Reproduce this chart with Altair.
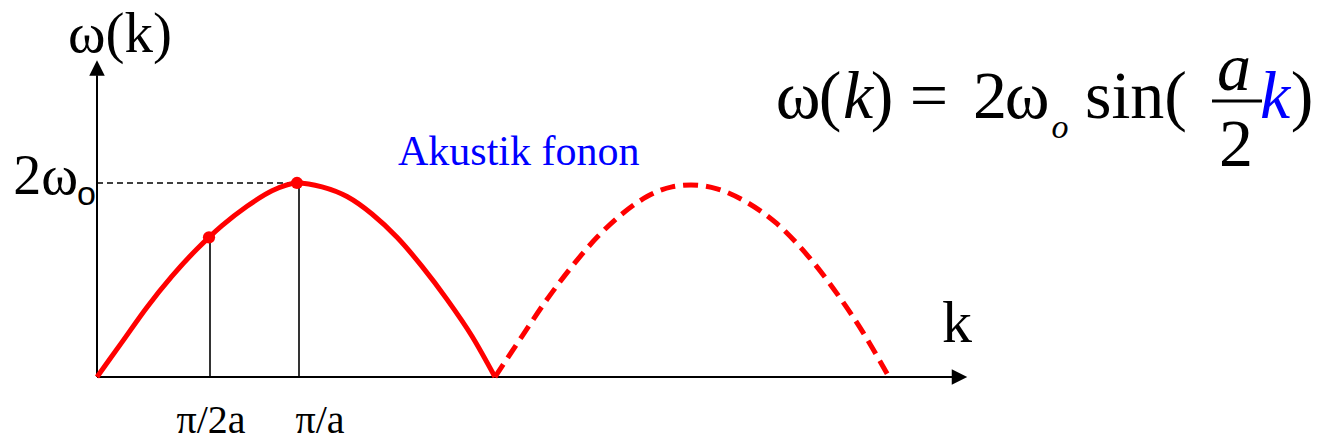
import altair as alt
import pandas as pd

# Dispersion of the acoustic phonon branch.
# k in units of pi/a, omega in units of 2*omega_o
k_solid = [0, 0.125, 0.25, 0.375, 0.5, 0.56, 0.625, 0.75, 0.875, 1.0,
           1.125, 1.25, 1.375, 1.5, 1.625, 1.75, 1.875, 1.99]
w_solid = [0, 0.18, 0.36, 0.52, 0.66, 0.72, 0.78, 0.88, 0.96, 1.0,
           0.98, 0.93, 0.84, 0.72, 0.57, 0.40, 0.21, 0]
k_dashed = [1.99, 2.125, 2.25, 2.375, 2.5, 2.625, 2.75, 2.875, 2.97,
            3.1, 3.25, 3.4, 3.55, 3.7, 3.83, 3.96]
w_dashed = [0, 0.21, 0.40, 0.57, 0.72, 0.84, 0.93, 0.98, 0.99,
            0.97, 0.90, 0.79, 0.63, 0.43, 0.23, 0]

# marked points on the branch
k_marks = [0.56, 1.0]
w_marks = [0.72, 1.0]
tick_labels = ["π/2a", "π/a"]
tick_label_k = [0.57, 1.115]

W, H = 1325, 443
X_DOMAIN = [-0.485, 6.14]
Y_DOMAIN = [-0.340, 1.943]
RED = "#ff0000"
BLUE = "#0000ff"
SERIF = "Liberation Serif"

xs = alt.Scale(domain=X_DOMAIN, range=[0, W], nice=False, zero=False)
ys = alt.Scale(domain=Y_DOMAIN, range=[H, 0], nice=False, zero=False)

def X(field="k"):
    return alt.X(f"{field}:Q", scale=xs, axis=None)

def Y(field="w"):
    return alt.Y(f"{field}:Q", scale=ys, axis=None)

solid = pd.DataFrame({"k": k_solid, "w": w_solid})
dashed = pd.DataFrame({"k": k_dashed, "w": w_dashed})
marks = pd.DataFrame({"k": k_marks, "w": w_marks})

# axes drawn as arrows
axes_df = pd.DataFrame({"k": [0, 0], "w": [0, 0], "k2": [0, 4.28], "w2": [1.555, 0]})
axes = alt.Chart(axes_df).mark_rule(color="black", strokeWidth=2).encode(
    x=X(), y=Y(), x2="k2:Q", y2="w2:Q")

arrow_up = alt.Chart(pd.DataFrame({"k": [0], "w": [1.593]})).mark_point(
    shape="M0,-1L1,1L-1,1Z", filled=True, color="black", opacity=1, size=240, strokeWidth=0
).encode(x=X(), y=Y())
arrow_right = alt.Chart(pd.DataFrame({"k": [4.3125], "w": [0]})).mark_point(
    shape="M1,0L-1,-1L-1,1Z", filled=True, color="black", opacity=1, size=240, strokeWidth=0
).encode(x=X(), y=Y())

# guide lines down to the k axis and across to the omega axis
drops = alt.Chart(pd.DataFrame({"k": [0.565, 1.01], "w": [0, 0], "w2": w_marks})).mark_rule(
    color="black", strokeWidth=1.6).encode(x=X(), y=Y(), y2="w2:Q")
level = alt.Chart(pd.DataFrame({"k": [0], "k2": [1.0], "w": [1.0]})).mark_rule(
    color="black", strokeWidth=1.5, strokeDash=[6, 4]).encode(x=X(), x2="k2:Q", y=Y())

curve_solid = alt.Chart(solid).mark_line(
    color=RED, strokeWidth=5, interpolate="monotone").encode(x=X(), y=Y())
curve_dashed = alt.Chart(dashed).mark_line(
    color=RED, strokeWidth=5, strokeDash=[15, 8], interpolate="monotone").encode(x=X(), y=Y())
dots = alt.Chart(marks).mark_circle(color=RED, size=150, opacity=1).encode(x=X(), y=Y())

ticks = alt.Chart(pd.DataFrame({"k": tick_label_k, "w": [-0.29, -0.29], "t": tick_labels})).mark_text(
    font=SERIF, fontSize=40, align="center", baseline="alphabetic", color="black"
).encode(x=X(), y=Y(), text="t:N")


def label(text, x, y, size, color="black", style="normal", align="center", font=SERIF):
    return alt.Chart(pd.DataFrame({"t": [text]})).mark_text(
        font=font, fontSize=size, fontStyle=style, align=align, baseline="alphabetic", color=color
    ).encode(x=alt.value(x), y=alt.value(y), text="t:N")


F = 68  # formula font size
texts = [
    label("ω(k)", 120, 52, 57),
    label("2ω", 78, 194, 56, align="right"),
    label("o", 77, 205, 34, align="left", font="Liberation Sans"),
    label("Akustik fonon", 398, 165, 42, color=BLUE, align="left"),
    label("k", 942, 342, 60, align="left"),
    # omega(k) = 2 omega_o sin(a/2 k)
    label("ω", 798, 118, F),
    label("(", 830, 118, F),
    label("k", 858, 118, F, style="italic"),
    label(")", 882, 118, F),
    label("=", 929, 118, F),
    label("2", 990, 118, F),
    label("ω", 1027, 118, F),
    label("o", 1060, 138, 34, style="italic"),
    label("sin(", 1136, 118, F),
    label("a", 1234, 90, F, style="italic"),
    label("2", 1236, 166, F),
    label("k", 1275, 118, F, color=BLUE, style="italic"),
    label(")", 1302, 118, F),
]
frac_bar = alt.Chart(pd.DataFrame({"t": [0]})).mark_rule(color="black", strokeWidth=3).encode(
    x=alt.value(1212), x2=alt.value(1262), y=alt.value(101))

chart = alt.layer(
    axes, arrow_up, arrow_right, drops, level, curve_solid, curve_dashed, dots, ticks,
    *texts, frac_bar
).properties(
    width=W, height=H, padding=0, autosize=alt.AutoSizeParams(type="none"), background="white"
).configure_view(stroke=None)

chart.save("out.html", embed_options={"renderer": "svg", "actions": False})
